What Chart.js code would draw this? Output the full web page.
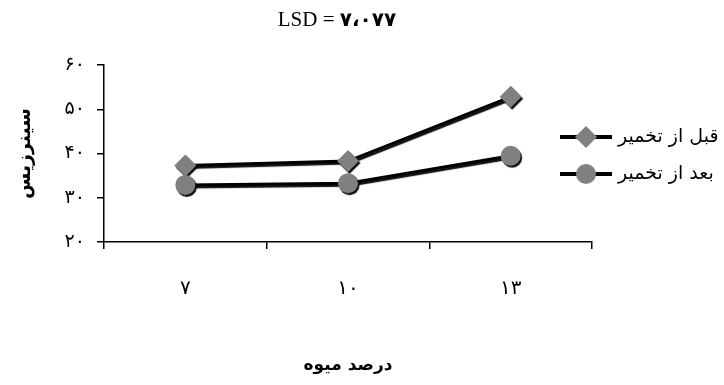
<!DOCTYPE html>
<html>
<head>
<meta charset="utf-8">
<script src="https://cdn.jsdelivr.net/npm/chart.js@4/dist/chart.umd.min.js"></script>
<style>
  html, body { margin: 0; padding: 0; background: #ffffff; }
  #wrap { width: 724px; height: 385px; position: relative; }
</style>
</head>
<body>
<div id="wrap"><canvas id="c" width="724" height="385"></canvas></div>
<script>
// ---- data ----
const categories = ['۷', '۱۰', '۱۳'];
const seriesNames = ['قبل از تخمیر', 'بعد از تخمیر'];
const beforeValues = [37.3, 38.3, 52.8];
const afterValues = [32.9, 33.3, 39.5];
const yTickValues = [20, 30, 40, 50, 60];
const yTickLabels = ['۲۰', '۳۰', '۴۰', '۵۰', '۶۰'];
const titleLead = 'LSD = ';
const titleValue = '۷،۰۷۷';
const yAxisTitle = 'سینرزیس';
const xAxisTitle = 'درصد میوه';

const persianFont = "'DejaVu Sans', 'Noto Sans', sans-serif";

// shadow under lines/markers
const shadowPlugin = {
  id: 'shadow',
  beforeDatasetDraw(chart) {
    const ctx = chart.ctx;
    ctx.save();
    ctx.shadowColor = 'rgba(0,0,0,0.95)';
    ctx.shadowOffsetX = 1.5;
    ctx.shadowOffsetY = 2;
    ctx.shadowBlur = 1;
  },
  afterDatasetDraw(chart) {
    chart.ctx.restore();
  }
};

// title + legend
const extrasPlugin = {
  id: 'extras',
  afterDraw(chart) {
    const ctx = chart.ctx;
    ctx.save();
    // title
    ctx.fillStyle = '#000';
    ctx.textBaseline = 'middle';
    ctx.textAlign = 'left';
    const leadFont = "21px 'Liberation Serif', 'DejaVu Serif', serif";
    const valFont = "bold 20px " + persianFont;
    ctx.font = leadFont;
    const w1 = ctx.measureText(titleLead).width;
    ctx.font = valFont;
    const w2 = ctx.measureText(titleValue).width;
    const x0 = 337 - (w1 + w2) / 2;
    ctx.font = leadFont;
    ctx.fillText(titleLead, x0, 20);
    ctx.font = valFont;
    ctx.fillText(titleValue, x0 + w1, 21);

    // legend
    chart.data.datasets.forEach((ds, i) => {
      const y = 137 + i * 37;
      ctx.strokeStyle = '#000';
      ctx.lineWidth = 4;
      ctx.beginPath();
      ctx.moveTo(560, y);
      ctx.lineTo(612, y);
      ctx.stroke();
      ctx.fillStyle = ds.pointBackgroundColor;
      const r = ds.pointRadius;
      const cx = 586;
      ctx.beginPath();
      if (ds.pointStyle === 'rectRot') {
        ctx.moveTo(cx, y - r);
        ctx.lineTo(cx + r, y);
        ctx.lineTo(cx, y + r);
        ctx.lineTo(cx - r, y);
        ctx.closePath();
      } else {
        ctx.arc(cx, y, r, 0, Math.PI * 2);
      }
      ctx.fill();
      ctx.fillStyle = '#000';
      ctx.textAlign = 'left';
      ctx.textBaseline = 'middle';
      ctx.font = '19px ' + persianFont;
      ctx.fillText(ds.label, 618, y);
    });
    ctx.restore();
  }
};

new Chart(document.getElementById('c'), {
  type: 'line',
  data: {
    labels: categories,
    datasets: [
      {
        label: seriesNames[0],
        data: beforeValues,
        borderColor: '#000',
        borderWidth: 3,
        pointStyle: 'rectRot',
        pointRadius: 11,
        pointBackgroundColor: '#808080',
        pointBorderColor: '#808080',
        pointBorderWidth: 0,
        tension: 0,
        order: 1
      },
      {
        label: seriesNames[1],
        data: afterValues,
        borderColor: '#000',
        borderWidth: 3,
        pointStyle: 'circle',
        pointRadius: 10,
        pointBackgroundColor: '#808080',
        pointBorderColor: '#808080',
        pointBorderWidth: 0,
        tension: 0,
        order: 0
      }
    ]
  },
  options: {
    responsive: false,
    animation: false,
    devicePixelRatio: 1,
    layout: { padding: { top: 65, right: 132, left: 0, bottom: 0 } },
    plugins: {
      legend: { display: false },
      title: { display: false },
      tooltip: { enabled: false }
    },
    scales: {
      x: {
        type: 'category',
        offset: true,
        afterFit(scale) { scale.height = 143; },
        border: { display: true, color: '#000', width: 1.5 },
        grid: {
          display: true, offset: true, drawOnChartArea: false, drawTicks: true,
          tickLength: 7, color: '#000', lineWidth: 1.5
        },
        ticks: {
          color: '#000', padding: 28,
          font: { family: persianFont, size: 20 },
          maxRotation: 0
        },
        title: {
          display: true, text: xAxisTitle, color: '#000',
          font: { family: persianFont, size: 17, weight: 'bold' },
          padding: { top: 0, bottom: 9 }
        }
      },
      y: {
        min: 20, max: 60,
        afterFit(scale) { scale.width = 104; },
        afterBuildTicks(scale) { scale.ticks = yTickValues.map(v => ({ value: v })); },
        border: { display: true, color: '#000', width: 1.5 },
        grid: {
          display: true, drawOnChartArea: false, drawTicks: true,
          tickLength: 7, color: '#000', lineWidth: 1.5
        },
        ticks: {
          color: '#000', padding: 12,
          font: { family: persianFont, size: 19 },
          callback(value) {
            const i = yTickValues.indexOf(value);
            return i >= 0 ? yTickLabels[i] : '';
          }
        },
        title: {
          display: true, text: yAxisTitle, color: '#000',
          font: { family: persianFont, size: 19, weight: 'bold' },
          padding: { top: 14, bottom: 0 }
        }
      }
    }
  },
  plugins: [shadowPlugin, extrasPlugin]
});
</script>
</body>
</html>
